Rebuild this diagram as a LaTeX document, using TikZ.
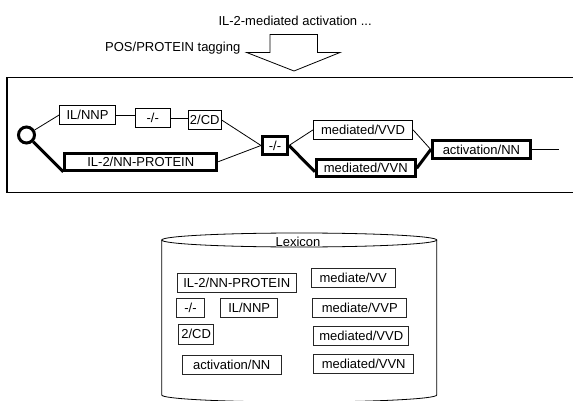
\documentclass[tikz,border=0pt]{standalone}
\usepackage{fontspec}
\setmainfont{Liberation Sans}
\usetikzlibrary{calc}
\begin{document}
\begin{tikzpicture}[x=1pt,y=-1pt,
  font=\fontsize{13}{15}\selectfont,
  tok/.style={draw, rectangle, inner sep=0pt, line width=0.8pt, fill=white},
  tokb/.style={draw, rectangle, inner sep=0pt, line width=3pt, fill=white},
  lex/.style={draw=black!85, rectangle, inner sep=0pt, line width=0.8pt},
  edgea/.style={line width=0.8pt},
  edgeb/.style={line width=3pt}]
\useasboundingbox (0,0) rectangle (573,401);
\clip (0,0) rectangle (573,401);

% title texts and arrow
\node[anchor=base west, inner sep=0pt] (title) at (218.3,26) {IL-2-mediated activation ...};
\node[anchor=base west, inner sep=0pt] (tagging) at (105,51.5) {POS/PROTEIN tagging};
\draw[line width=0.8pt, fill=white] (246.7,52.5) -- (270,52.5) -- (270,34.5) -- (317.5,34.5)
  -- (317.5,52.5) -- (340,52.5) -- (294,71) -- cycle;

% frame
\draw[line width=1.3pt] (7,77.3) rectangle (600,192.5);

% lattice nodes
\node[circle, draw, line width=3pt, minimum size=16pt, inner sep=0pt] (start) at (26.5,135) {};
\node[tok, minimum width=56pt, minimum height=19pt] (ilnnp) at (87.5,115) {IL/NNP};
\node[tok, minimum width=34.5pt, minimum height=18.5pt] (dasha) at (152.7,118) {-/-};
\node[tok, minimum width=33.5pt, minimum height=19pt] (cd) at (204.8,120.2) {2/CD};
\node[tokb, minimum width=152pt, minimum height=17pt] (il2) at (140.8,161.7) {IL-2/NN-PROTEIN};
\node[tokb, minimum width=25pt, minimum height=18pt] (dashb) at (275,145.5) {-/-};
\node[tok, minimum width=99.6pt, minimum height=19pt] (vvd) at (363,130) {mediated/VVD};
\node[tokb, minimum width=98.7pt, minimum height=17pt] (vvn) at (365.8,168.3) {mediated/VVN};
\node[tokb, minimum width=98.3pt, minimum height=18pt] (act) at (481.4,149.5) {activation/NN};
\coordinate (endpt) at (558.7,149.5);

% lattice edges
\draw[edgea] (start) -- (ilnnp.west);
\draw[edgeb] (start) -- (il2.south west);
\draw[edgea] (ilnnp.east) -- (ilnnp.east -| dasha.west);
\draw[edgea] (dasha.east) -- (dasha.east -| cd.west);
\draw[edgea] (cd.east) -- (dashb.west);
\draw[edgea] (il2.east) -- (dashb.west);
\draw[edgea] (dashb.east) -- (vvd.west);
\draw[edgeb] (dashb.east) -- ([yshift=-3.5pt]vvn.west);
\draw[edgea] (vvd.east) -- (act.west);
\draw[edgeb] (vvn.east) -- (act.west);
\draw[edgea] (act.east) -- (endpt);

% lexicon cylinder
\draw[line width=0.8pt] (161.7,240) -- (161.7,395)
  arc[start angle=180, end angle=360, x radius=137.5pt, y radius=7pt] -- (436.7,240);
\draw[line width=0.8pt, fill=white] (299.2,240) ellipse [x radius=137.5pt, y radius=7pt];
\node (lexicon) at (298,241.5) {Lexicon};

% lexicon entries
\node[lex, minimum width=119pt, minimum height=19pt] (l1) at (236.7,282.5) {IL-2/NN-PROTEIN};
\node[lex, minimum width=83.5pt, minimum height=19pt] (l2) at (353.2,278.3) {mediate/VV};
\node[lex, minimum width=28pt, minimum height=19pt] (l3) at (190.5,308.3) {-/-};
\node[lex, minimum width=57.3pt, minimum height=19pt] (l4) at (249.2,308.3) {IL/NNP};
\node[lex, minimum width=94pt, minimum height=19pt] (l5) at (359.8,308.3) {mediate/VVP};
\node[lex, minimum width=34.7pt, minimum height=20.5pt] (l6) at (196.2,334.2) {2/CD};
\node[lex, minimum width=95pt, minimum height=19pt] (l7) at (361.3,336) {mediated/VVD};
\node[lex, minimum width=99pt, minimum height=19pt] (l8) at (231.7,365) {activation/NN};
\node[lex, minimum width=99.7pt, minimum height=19pt] (l9) at (363.7,364) {mediated/VVN};
\end{tikzpicture}
\end{document}
